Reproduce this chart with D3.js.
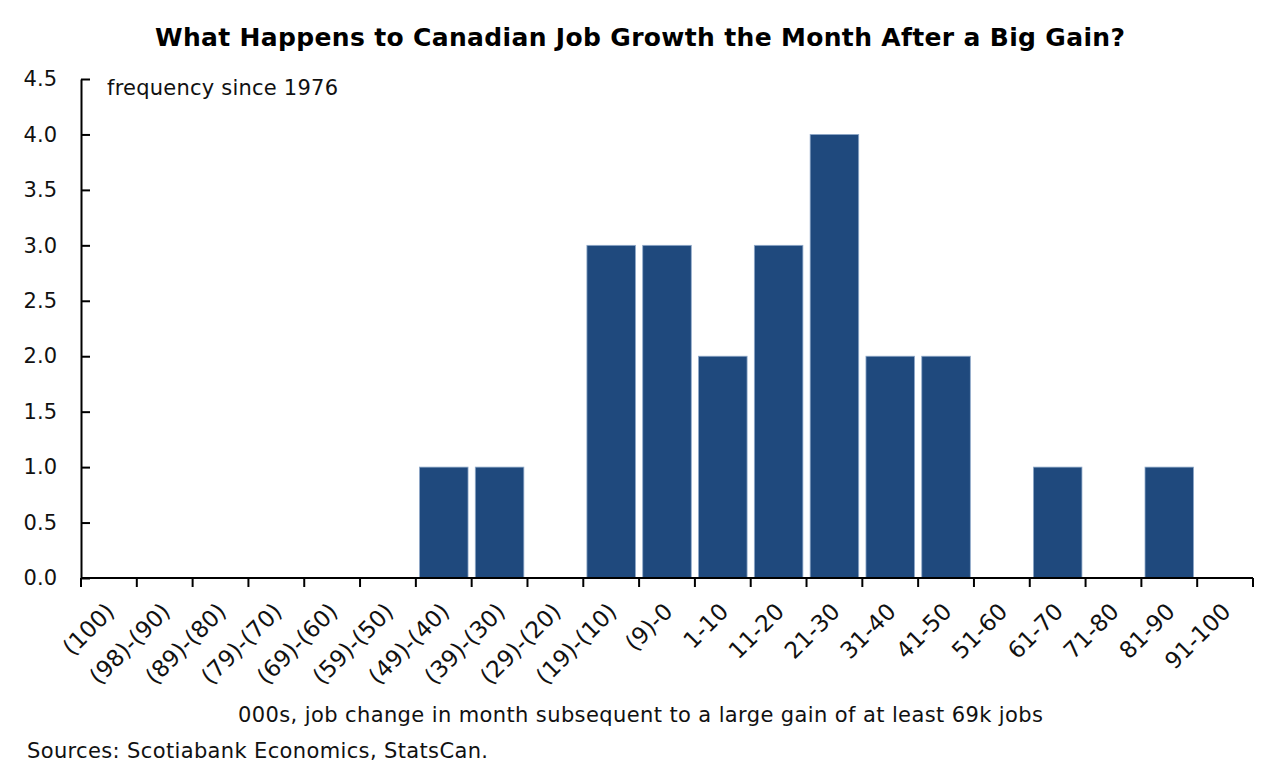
<!DOCTYPE html>
<html>
<head>
<meta charset="utf-8">
<script src="https://cdn.jsdelivr.net/npm/d3@7"></script>
<style>
  body { margin: 0; background: #fff; }
  svg { font-family: 'DejaVu Sans', sans-serif; }
</style>
</head>
<body>
<svg id="chart"></svg>
<script>
// data
let categories = ['(100)', '(98)-(90)', '(89)-(80)', '(79)-(70)', '(69)-(60)', '(59)-(50)',
  '(49)-(40)', '(39)-(30)', '(29)-(20)', '(19)-(10)', '(9)-0', '1-10', '11-20', '21-30',
  '31-40', '41-50', '51-60', '61-70', '71-80', '81-90', '91-100']
let frequency = [0, 0, 0, 0, 0, 0, 1, 1, 0, 3, 3, 2, 3, 4, 2, 2, 0, 1, 0, 1, 0]
let yTicks = [0, 0.5, 1, 1.5, 2, 2.5, 3, 3.5, 4, 4.5]

let w = 1280
let h = 781
let plotLeft = 81
let plotRight = 1253
let plotTop = 79
let plotBottom = 578

let svg = d3.select('#chart')
  .attr('width', w)
  .attr('height', h)

let values = categories.map((c, i) => ({ cat: c, val: frequency[i] }))

let xScale = d3.scaleBand()
  .domain(categories)
  .range([plotLeft, plotRight])
  .paddingInner(0.13)
  .paddingOuter(0.065)

let yScale = d3.scaleLinear()
  .domain([0, 4.5])
  .range([plotBottom, plotTop])

// bars
svg.selectAll('rect.bar')
  .data(values)
  .enter()
  .append('rect')
  .attr('class', 'bar')
  .attr('x', (d) => xScale(d.cat))
  .attr('width', xScale.bandwidth())
  .attr('y', (d) => yScale(d.val))
  .attr('height', (d) => yScale(0) - yScale(d.val))
  .attr('fill', '#1f497d')
  .attr('stroke', '#8fa9c9')
  .attr('stroke-width', 0.8)

// y axis
let yAxis = d3.axisLeft(yScale)
  .tickValues(yTicks)
  .tickFormat(d3.format('.1f'))
  .tickSizeInner(-9)
  .tickSizeOuter(0)
  .tickPadding(24)

let gy = svg.append('g')
  .attr('transform', 'translate(' + plotLeft + ',0)')
  .call(yAxis)
gy.select('.domain').attr('stroke', '#000').attr('stroke-width', 2)
gy.selectAll('.tick line').attr('stroke', '#000').attr('stroke-width', 2)
gy.selectAll('.tick text')
  .attr('font-size', 21)
  .attr('fill', '#111')
  .attr('font-family', "'DejaVu Sans', sans-serif")

// x axis: ticks at the band boundaries, labels at band centres
let edges = categories.map((c) => xScale(c) - xScale.step() * xScale.paddingInner() / 2)
edges.push(plotRight)

let gx = svg.append('g')
gx.append('line')
  .attr('x1', plotLeft).attr('x2', plotRight)
  .attr('y1', plotBottom).attr('y2', plotBottom)
  .attr('stroke', '#000').attr('stroke-width', 2)
gx.selectAll('line.tick')
  .data(edges)
  .enter()
  .append('line')
  .attr('class', 'tick')
  .attr('x1', (d) => d).attr('x2', (d) => d)
  .attr('y1', plotBottom).attr('y2', plotBottom + 9)
  .attr('stroke', '#000').attr('stroke-width', 2)
gx.selectAll('text')
  .data(categories)
  .enter()
  .append('text')
  .attr('text-anchor', 'end')
  .attr('font-size', 23)
  .attr('fill', '#111')
  .attr('transform', (d) => 'translate(' + (xScale(d) + xScale.bandwidth() / 2 + 7) + ',' + (plotBottom + 35) + ') rotate(-45)')
  .text((d) => d)

// texts
svg.append('text')
  .attr('x', 155).attr('y', 46)
  .attr('font-size', 25)
  .attr('font-weight', 'bold')
  .attr('fill', '#000')
  .attr('textLength', 970)
  .attr('lengthAdjust', 'spacing')
  .text('What Happens to Canadian Job Growth the Month After a Big Gain?')

svg.append('text')
  .attr('x', 107).attr('y', 95)
  .attr('font-size', 21)
  .attr('fill', '#111')
  .attr('textLength', 231)
  .attr('lengthAdjust', 'spacing')
  .text('frequency since 1976')

svg.append('text')
  .attr('x', 238).attr('y', 722)
  .attr('font-size', 21)
  .attr('fill', '#111')
  .attr('textLength', 805)
  .attr('lengthAdjust', 'spacing')
  .text('000s, job change in month subsequent to a large gain of at least 69k jobs')

svg.append('text')
  .attr('x', 27).attr('y', 758)
  .attr('font-size', 21)
  .attr('fill', '#111')
  .attr('textLength', 461)
  .attr('lengthAdjust', 'spacing')
  .text('Sources: Scotiabank Economics, StatsCan.')
</script>
</body>
</html>
